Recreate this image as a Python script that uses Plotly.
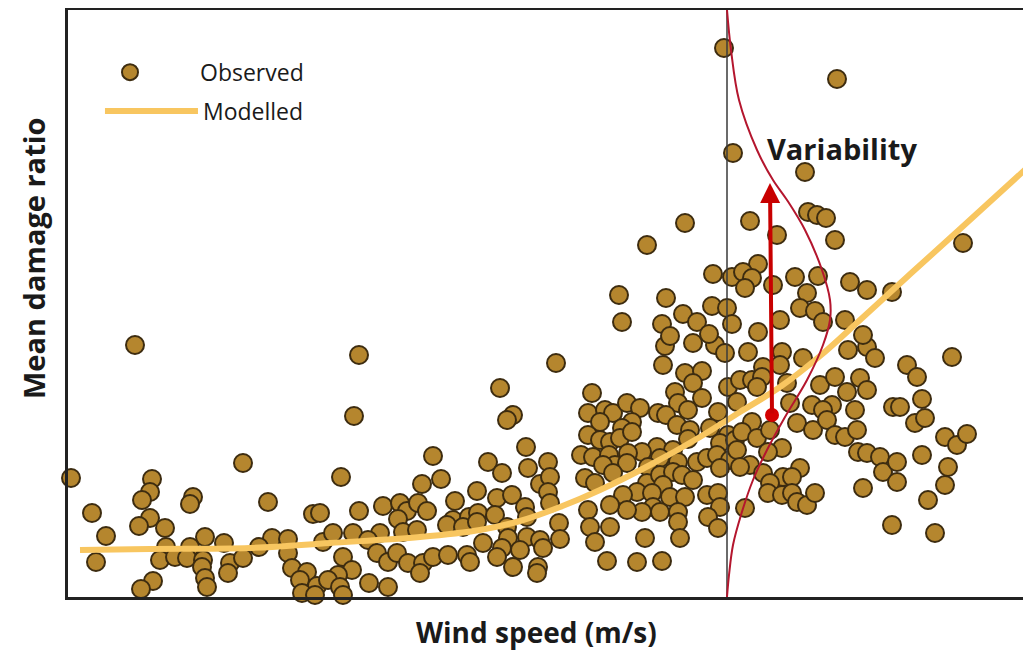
import plotly.graph_objects as go

# Observed points (wind speed, arbitrary units; mean damage ratio)
wind_speed = [
    6.7, 0.3, 17.5, 8.4, 8.2, 7.4, 12.5, 12.2, 20.0, 2.4, 24.5, 8.2, 7.1, 9.7, 3.8, 13.7, 15.6, 9.8, 12.2, 20.4,
    22.0, 19.1, 25.5, 2.8, 9.2, 10.7, 11.9, 13.5, 13.4, 16.2, 16.0, 17.5, 22.0, 22.4, 23.9, 23.2, 24.9, 23.4, 24.7, 13.7,
    13.9, 8.5, 7.3,
    29.1, 28.6, 48.8, 43.2, 44.5, 43.9, 45.8, 42.0, 43.4, 46.0, 48.0, 36.5, 27.3, 35.4, 37.3, 47.2, 48.2, 40.9, 48.0, 48.2,
    42.9, 44.4, 29.1, 31.5, 33.2, 33.9, 35.0, 35.9, 38.7, 33.0, 38.5, 40.1, 41.0, 42.7, 45.7, 45.9, 49.1, 33.5, 34.9, 37.9,
    39.5, 40.9, 43.9, 25.2, 26.5, 28.5, 31.2, 30.0, 45.9, 47.2, 49.2, 44.0, 41.5, 43.4, 45.2, 47.5, 27.5, 30.9, 32.0, 32.9,
    34.0, 35.5, 36.5, 38.0, 39.9, 40.2, 42.9, 44.5, 47.0, 46.9, 35.2, 28.4, 27.0, 26.0, 27.2, 27.5, 30.1, 32.0,
    59.5, 59.7, 62.5, 64.7, 65.7, 52.4, 61.7, 63.4, 62.5, 66.0, 60.7, 61.0, 63.4, 62.0, 65.0, 66.9, 52.0, 53.7, 54.5, 55.9,
    57.2, 59.0, 59.8, 56.4, 53.2, 55.4, 52.0, 53.2, 54.2, 55.2, 56.4, 60.9, 62.2, 64.2, 66.0, 65.2, 66.7, 62.0, 58.9, 60.5,
    57.4, 56.0, 51.3, 52.5, 54.1, 54.7, 53.5, 55.9, 59.2, 61.0, 62.9, 63.9, 64.9, 66.2, 65.2, 58.0, 54.5, 51.7, 52.7, 57.9,
    59.2, 60.5, 61.4, 62.5, 59.5, 56.9, 55.5, 58.4, 60.2, 61.7, 63.9, 65.0, 58.5, 59.2, 61.0, 57.4, 55.9, 54.2, 52.0, 65.2,
    64.0, 61.0, 54.2, 52.2, 65.0, 52.7, 57.7, 61.2, 53.9, 56.9, 59.4,
    68.0, 71.4, 71.2, 73.5, 69.5, 67.2, 68.4, 69.4, 68.9, 72.2, 71.9, 75.2, 76.7, 78.0, 79.9, 80.7, 79.2, 77.9, 79.9, 74.4,
    76.4, 75.5, 78.7, 82.5, 68.4, 72.9, 74.5, 75.9, 76.7, 77.7, 78.9, 67.4, 68.9, 70.2, 71.4, 70.0, 66.9, 68.2, 67.2, 69.5,
    71.5, 73.2, 72.4, 79.0, 79.9, 81.2, 81.5, 82.9, 82.9, 70.2, 70.0, 71.4, 72.4, 72.9, 73.9, 74.7, 79.5, 67.7, 82.4,
    88.4, 83.9, 84.9, 83.2, 85.4, 84.7, 85.7, 87.7, 88.9, 89.9, 85.4, 88.0, 87.7, 86.0, 86.7,
    61.7, 57.9, 64.5, 66.4, 55.1, 59.8, 64.4, 65.9, 55.4, 59.4, 61.5, 62.9, 60.2, 64.1, 66.4,
    66.5, 73.7, 68.2, 70.9, 74.0, 74.9, 75.8, 76.7, 89.5, 69.0, 67.5, 68.4, 67.7, 70.5, 72.7, 75.0, 73.9, 73.2, 74.7, 71.2,
    75.5, 77.7, 78.2, 79.9, 82.4, 69.0, 79.5,
    65.6, 76.9,
]
damage_ratio = [
    0.252, 0.119, 0.134, 0.118, 0.105, 0.097, 0.100, 0.093, 0.095, 0.084, 0.083, 0.079, 0.071, 0.069, 0.061, 0.060, 0.054, 0.050, 0.050, 0.059,
    0.058, 0.050, 0.055, 0.035, 0.037, 0.040, 0.039, 0.037, 0.030, 0.034, 0.024, 0.039, 0.044, 0.029, 0.025, 0.017, 0.011, 0.004, 0.002, 0.019,
    0.010, 0.016, 0.008,
    0.242, 0.181, 0.234, 0.209, 0.182, 0.177, 0.150, 0.135, 0.124, 0.129, 0.135, 0.141, 0.120, 0.113, 0.118, 0.113, 0.120, 0.106, 0.105, 0.094,
    0.099, 0.102, 0.086, 0.091, 0.094, 0.086, 0.094, 0.086, 0.096, 0.078, 0.077, 0.080, 0.084, 0.082, 0.090, 0.080, 0.074, 0.065, 0.067, 0.072,
    0.070, 0.075, 0.070, 0.084, 0.064, 0.064, 0.064, 0.057, 0.060, 0.057, 0.058, 0.059, 0.054, 0.049, 0.047, 0.049, 0.040, 0.044, 0.035, 0.044,
    0.034, 0.034, 0.040, 0.042, 0.042, 0.035, 0.040, 0.030, 0.030, 0.024, 0.024, 0.027, 0.022, 0.017, 0.010, 0.002, 0.014, 0.010,
    0.232, 0.251, 0.254, 0.252, 0.244, 0.204, 0.224, 0.226, 0.214, 0.210, 0.205, 0.194, 0.199, 0.187, 0.185, 0.195, 0.184, 0.187, 0.184, 0.194,
    0.189, 0.184, 0.182, 0.175, 0.175, 0.169, 0.162, 0.157, 0.155, 0.159, 0.165, 0.172, 0.167, 0.169, 0.162, 0.154, 0.157, 0.158, 0.150, 0.147,
    0.145, 0.144, 0.142, 0.140, 0.142, 0.132, 0.132, 0.134, 0.139, 0.135, 0.135, 0.139, 0.142, 0.137, 0.129, 0.130, 0.124, 0.119, 0.114, 0.114,
    0.122, 0.125, 0.122, 0.117, 0.112, 0.105, 0.102, 0.104, 0.100, 0.100, 0.102, 0.104, 0.090, 0.085, 0.085, 0.085, 0.087, 0.092, 0.087, 0.090,
    0.080, 0.075, 0.070, 0.070, 0.069, 0.055, 0.059, 0.059, 0.036, 0.035, 0.036,
    0.245, 0.245, 0.232, 0.239, 0.230, 0.217, 0.217, 0.220, 0.210, 0.194, 0.214, 0.212, 0.220, 0.247, 0.250, 0.239, 0.219, 0.205, 0.207, 0.192,
    0.192, 0.187, 0.187, 0.190, 0.175, 0.174, 0.167, 0.177, 0.162, 0.160, 0.167, 0.165, 0.159, 0.167, 0.149, 0.145, 0.147, 0.132, 0.130, 0.124,
    0.120, 0.129, 0.120, 0.145, 0.144, 0.140, 0.125, 0.135, 0.115, 0.114, 0.104, 0.102, 0.104, 0.095, 0.092, 0.104, 0.109, 0.089, 0.072,
    0.240, 0.232, 0.220, 0.190, 0.198, 0.174, 0.179, 0.160, 0.152, 0.163, 0.142, 0.130, 0.112, 0.097, 0.064,
    0.374, 0.352, 0.323, 0.320, 0.302, 0.299, 0.291, 0.289, 0.275, 0.273, 0.283, 0.275, 0.261, 0.263, 0.273,
    0.444, 0.425, 0.376, 0.362, 0.385, 0.382, 0.379, 0.357, 0.354, 0.333, 0.325, 0.319, 0.309, 0.312, 0.320, 0.321, 0.304, 0.289, 0.286, 0.277,
    0.275, 0.277, 0.315, 0.307, 0.305, 0.265, 0.262,
    0.549, 0.518,
]

# Modelled vulnerability curve
model_wind = [1.2, 8.2, 18.2, 26.2, 35.2, 41.2, 45.2, 49.2, 53.2, 58.2, 63.2, 67.2, 71.2, 75.2, 79.2, 83.9, 89.2, 96.0]
model_damage = [0.047, 0.048, 0.049, 0.054, 0.060, 0.067, 0.076, 0.090, 0.107, 0.132, 0.160, 0.185, 0.210, 0.241, 0.277, 0.320, 0.368, 0.430]

# Schematic distribution of damage at the reference wind speed
dist_wind = [65.9, 66.3, 67.1, 68.9, 70.5, 71.9, 73.7, 75.4, 76.2, 76.2, 75.5, 73.9, 71.7, 69.9, 68.5, 67.3, 66.5, 66.1, 65.9]
dist_damage = [0.587, 0.547, 0.497, 0.447, 0.417, 0.397, 0.367, 0.327, 0.297, 0.277, 0.252, 0.217, 0.180, 0.147, 0.117, 0.082, 0.052, 0.022, 0.000]

reference_speed = 65.9
arrow_base_x, arrow_base_y = 70.4, 0.182
arrow_tip_x, arrow_tip_y = 70.2, 0.414

x_range = [0, 96.3]
y_range = [0, 0.587]

fig = go.Figure()
fig.add_trace(go.Scatter(
    x=wind_speed, y=damage_ratio, mode='markers', name='Observed', legend='legend',
    marker=dict(size=18, color='#B5862E', line=dict(color='#3D2C10', width=2)),
    cliponaxis=False,
))
fig.add_trace(go.Scatter(
    x=model_wind, y=model_damage, mode='lines', name='Modelled', legend='legend2',
    line=dict(color='#F8C660', width=6, shape='spline'),
))
fig.add_trace(go.Scatter(
    x=[reference_speed, reference_speed], y=y_range, mode='lines', showlegend=False,
    line=dict(color='#3A3A3A', width=1.5),
))
fig.add_trace(go.Scatter(
    x=dist_wind, y=dist_damage, mode='lines', showlegend=False,
    line=dict(color='#B4162E', width=2, shape='spline'),
))
fig.add_trace(go.Scatter(
    x=[arrow_base_x], y=[arrow_base_y], mode='markers', showlegend=False,
    marker=dict(size=14, color='#D40000'),
))
fig.add_annotation(
    x=arrow_tip_x, y=arrow_tip_y, ax=arrow_base_x, ay=arrow_base_y,
    xref='x', yref='y', axref='x', ayref='y', text='',
    showarrow=True, arrowhead=2, arrowsize=1, arrowwidth=4, arrowcolor='#C80000',
)
fig.add_annotation(
    x=77.4, y=0.449, xref='x', yref='y', text='<b>Variability</b>', showarrow=False,
    xanchor='center', yanchor='middle',
    font=dict(family='Open Sans', size=29, color='#1A1A1A'),
)
fig.add_annotation(
    x=-0.0363, y=0.5775, xref='paper', yref='paper', text='<b>Mean damage ratio</b>',
    textangle=-90, showarrow=False, xanchor='center', yanchor='middle',
    font=dict(family='Open Sans', size=29, color='#1A1A1A'),
)
fig.add_annotation(
    x=0.487, y=-0.0596, xref='paper', yref='paper', text='<b>Wind speed (m/s)</b>',
    showarrow=False, xanchor='center', yanchor='middle',
    font=dict(family='Open Sans', size=28, color='#1A1A1A'),
)

# The page body has an 8px default margin; the figure size/margins account for it
fig.update_layout(
    width=1023, height=644,
    margin=dict(l=60, r=0, t=2, b=55),
    paper_bgcolor='white', plot_bgcolor='white',
    xaxis=dict(range=x_range, showline=True, linecolor='#222222', linewidth=3, mirror=True,
               showgrid=False, zeroline=False, showticklabels=False, ticks=''),
    yaxis=dict(range=y_range, showline=True, linecolor='#222222', linewidth=3, mirror=False,
               showgrid=False, zeroline=False, showticklabels=False, ticks=''),
    legend=dict(x=-0.0083, y=0.894, xanchor='left', yanchor='middle', bgcolor='rgba(0,0,0,0)',
                font=dict(family='Open Sans', size=23, color='#1A1A1A'), itemwidth=130),
    legend2=dict(x=0.0332, y=0.828, xanchor='left', yanchor='middle', bgcolor='rgba(0,0,0,0)',
                 font=dict(family='Open Sans', size=23, color='#1A1A1A'), itemwidth=93),
)

fig.write_html('out.html')
